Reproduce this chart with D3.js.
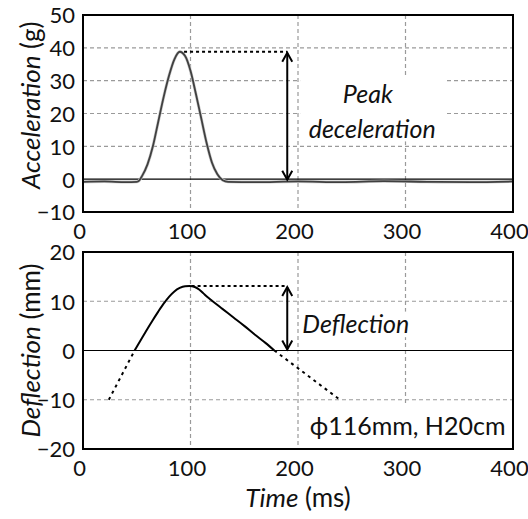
<!DOCTYPE html>
<html>
<head>
<meta charset="utf-8">
<script src="https://cdn.jsdelivr.net/npm/d3@7"></script>
<style>
  html, body { margin: 0; padding: 0; background: #fff; }
  svg text { font-family: Lato, "Open Sans", sans-serif; fill: #111; }
</style>
</head>
<body>
<svg id="chart" width="528" height="519"></svg>
<script>
// Time axis ticks shared by both panels (ms)
const timeTicks = [0, 100, 200, 300, 400];
const accelTicks = [-10, 0, 10, 20, 30, 40, 50];
const deflTicks = [-20, -10, 0, 10, 20];

// Measured acceleration (g) vs time (ms)
const accelTime = [0, 20, 40, 50, 52, 55, 60, 65, 70, 75, 80, 85, 90, 95, 100, 105, 110, 115, 120, 125, 130, 135, 160, 200, 240, 280, 320, 360, 400];
const accelValue = [-0.8, -0.7, -0.9, -0.8, -0.5, 1, 4.5, 10, 17.5, 25, 31.5, 36.5, 38.8, 37.5, 33, 26, 18.5, 11, 5, 1.5, -0.3, -0.8, -0.9, -0.7, -0.9, -0.6, -0.8, -0.9, -0.7];

// Measured deflection (mm) vs time (ms)
const deflTime = [48, 55, 60, 65, 70, 75, 80, 85, 90, 95, 99, 104, 108, 112, 116, 120, 130, 140, 150, 160, 170, 178];
const deflValue = [0, 2.6, 4.4, 6.2, 7.9, 9.5, 10.9, 12, 12.7, 13.05, 13.1, 12.9, 12.4, 11.6, 10.8, 10.1, 8.4, 6.7, 5.0, 3.2, 1.5, 0];

// Extrapolated deflection before contact and after release (dashed)
const deflLeadTime = [24, 48];
const deflLeadValue = [-10, 0];
const deflTailTime = [178, 239];
const deflTailValue = [0, -10];

// Annotations
const peakAccel = 38.8;
const accelFloor = -0.5;
const peakDefl = 13.1;
const markerTime = 190;

const svg = d3.select("#chart");
const x = d3.scaleLinear().domain([0, 400]).range([83, 513]);
const yA = d3.scaleLinear().domain([-10, 50]).range([212, 15]);
const yD = d3.scaleLinear().domain([-20, 20]).range([449, 252]);

const tickFont = "22px";

function panel(y, ticks, gridVals) {
  const g = svg.append("g");
  // dashed grid
  g.selectAll("line.gx").data([100, 200, 300]).join("line")
    .attr("x1", d => x(d)).attr("x2", d => x(d))
    .attr("y1", y.range()[1]).attr("y2", y.range()[0])
    .attr("stroke", "#9a9a9a").attr("stroke-width", 1.2).attr("stroke-dasharray", "4,3");
  g.selectAll("line.gy").data(gridVals).join("line")
    .attr("x1", x(0)).attr("x2", x(400))
    .attr("y1", d => y(d)).attr("y2", d => y(d))
    .attr("stroke", "#9a9a9a").attr("stroke-width", 1.2).attr("stroke-dasharray", "4,3");
  // zero line
  g.append("line").attr("x1", x(0)).attr("x2", x(400))
    .attr("y1", y(0)).attr("y2", y(0)).attr("stroke", "#000").attr("stroke-width", 1.2);
  // y axis labels
  const ay = g.append("g").attr("transform", `translate(${x(0) - 8},0)`)
    .call(d3.axisLeft(y).tickValues(ticks).tickSize(0).tickPadding(0).tickFormat(d3.format("d")));
  ay.select(".domain").remove();
  ay.selectAll("text").style("font-size", tickFont).style("font-family", "Lato, sans-serif").attr("fill", "#111").attr("dy", "0.36em");
  // x axis labels
  const ax = g.append("g").attr("transform", `translate(-4,${y.range()[0] + 19})`)
    .call(d3.axisBottom(x).tickValues(timeTicks).tickSize(0).tickPadding(0).tickFormat(d3.format("d")));
  ax.select(".domain").remove();
  ax.selectAll("text").style("font-size", tickFont).style("font-family", "Lato, sans-serif").attr("fill", "#111").attr("dy", "0.36em");
  return g;
}

const gA = panel(yA, accelTicks, [10, 20, 30, 40]);
const gD = panel(yD, deflTicks, [-10, 10]);

// white label boxes (text boxes that hide grid behind them)
function whiteBox(g, x0, x1, y0, y1) {
  g.append("rect").attr("x", x0).attr("y", y0).attr("width", x1 - x0).attr("height", y1 - y0).attr("fill", "#fff");
}
whiteBox(gA, x(202), x(338), yA(31), yA(11.5));
whiteBox(gD, x(202), x(312), yD(7.9), yD(2.7));
whiteBox(gD, x(208), x(397), yD(-11), yD(-19.2));

// acceleration trace
const lineA = d3.line().x(i => x(accelTime[i])).y(i => yA(accelValue[i])).curve(d3.curveMonotoneX);
gA.append("path").attr("d", lineA(d3.range(accelTime.length)))
  .attr("fill", "none").attr("stroke", "#c8c8c8").attr("stroke-width", 3);
gA.append("path").attr("d", lineA(d3.range(accelTime.length)))
  .attr("fill", "none").attr("stroke", "#404040").attr("stroke-width", 1.8);

// deflection trace
const lineD = (ts, vs, curve) => d3.line().x(i => x(ts[i])).y(i => yD(vs[i])).curve(curve)(d3.range(ts.length));
gD.append("path").attr("d", lineD(deflTime, deflValue, d3.curveMonotoneX))
  .attr("fill", "none").attr("stroke", "#000").attr("stroke-width", 2);
gD.append("path").attr("d", lineD(deflLeadTime, deflLeadValue, d3.curveLinear))
  .attr("fill", "none").attr("stroke", "#000").attr("stroke-width", 2).attr("stroke-dasharray", "3,4");
gD.append("path").attr("d", lineD(deflTailTime, deflTailValue, d3.curveLinear))
  .attr("fill", "none").attr("stroke", "#000").attr("stroke-width", 2).attr("stroke-dasharray", "3,4");

// peak markers: dotted level line + double arrow
function marker(g, y, t0, top, bottom) {
  g.append("line").attr("x1", x(t0)).attr("x2", x(markerTime))
    .attr("y1", y(top)).attr("y2", y(top))
    .attr("stroke", "#000").attr("stroke-width", 2).attr("stroke-dasharray", "3,3");
  const ax = x(markerTime), y0 = y(top), y1 = y(bottom);
  g.append("line").attr("x1", ax).attr("x2", ax).attr("y1", y0 + 1).attr("y2", y1 - 1)
    .attr("stroke", "#000").attr("stroke-width", 2);
  g.append("path").attr("d", `M${ax - 5},${y0 + 10}L${ax},${y0 + 1}L${ax + 5},${y0 + 10}`)
    .attr("fill", "none").attr("stroke", "#000").attr("stroke-width", 2);
  g.append("path").attr("d", `M${ax - 5},${y1 - 10}L${ax},${y1 - 1}L${ax + 5},${y1 - 10}`)
    .attr("fill", "none").attr("stroke", "#000").attr("stroke-width", 2);
}
marker(gA, yA, 94, peakAccel, accelFloor);
marker(gD, yD, 101, peakDefl, 0);

// annotation text
const noteFont = "25px";
gA.append("text").attr("x", x(265)).attr("y", yA(23.1)).attr("text-anchor", "middle")
  .style("font-size", noteFont).style("font-style", "italic").text("Peak");
gA.append("text").attr("x", x(269)).attr("y", yA(12.6)).attr("text-anchor", "middle")
  .style("font-size", noteFont).style("font-style", "italic").text("deceleration");
gD.append("text").attr("x", x(204)).attr("y", yD(3.5)).attr("text-anchor", "start")
  .style("font-size", noteFont).style("font-style", "italic").text("Deflection");
gD.append("text").attr("x", x(393)).attr("y", yD(-17.2)).attr("text-anchor", "end")
  .style("font-size", noteFont).text("ϕ116mm, H20cm");

// plot frames
[yA, yD].forEach(y => {
  svg.append("rect").attr("x", x(0)).attr("y", y.range()[1])
    .attr("width", x(400) - x(0)).attr("height", y.range()[0] - y.range()[1])
    .attr("fill", "none").attr("stroke", "#000").attr("stroke-width", 2);
});

// axis titles
const titleFont = "26px";
function yTitle(cy, italicPart, plainPart) {
  const t = svg.append("text").attr("transform", `translate(40,${cy}) rotate(-90)`)
    .attr("text-anchor", "middle").style("font-size", titleFont);
  t.append("tspan").style("font-style", "italic").text(italicPart);
  t.append("tspan").text(" " + plainPart);
}
yTitle(yA(22.5), "Acceleration", "(g)");
yTitle(yD(0), "Deflection", "(mm)");

const xt = svg.append("text").attr("x", x(200)).attr("y", 507).attr("text-anchor", "middle").style("font-size", titleFont);
xt.append("tspan").style("font-style", "italic").text("Time");
xt.append("tspan").text(" (ms)");
</script>
</body>
</html>
